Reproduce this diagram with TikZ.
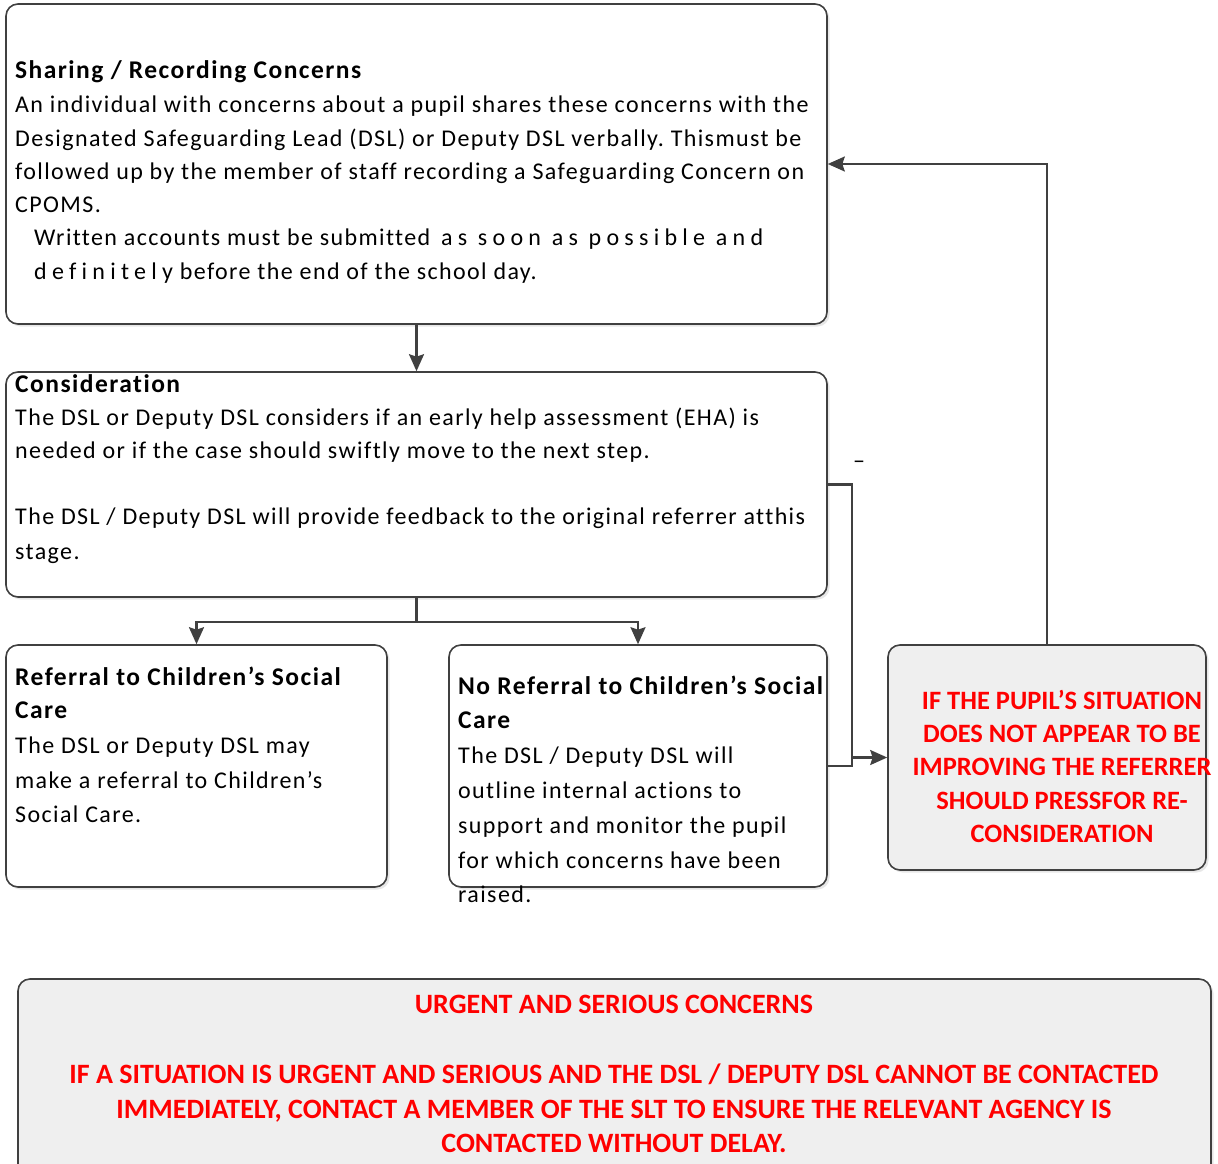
\documentclass[tikz,border=0pt]{standalone}
\usepackage{fontspec}
\setmainfont{Carlito}[LetterSpace=5.8,Ligatures=NoCommon]
\newfontfamily\plainfont{Carlito}
\newfontfamily\spc[LetterSpace=22,Ligatures=NoCommon]{Carlito}
\usetikzlibrary{arrows.meta,shadows}
\definecolor{edge}{HTML}{404040}
\definecolor{boxgray}{HTML}{EFEFEF}
\definecolor{alert}{HTML}{FF0000}
\frenchspacing
\begin{document}
\begin{tikzpicture}[x=1pt,y=-1pt,
  box/.style={draw=edge,line width=1.6pt,rounded corners=12pt,fill=white,inner sep=0pt,
    drop shadow={shadow xshift=2.5pt,shadow yshift=-2.5pt,fill=black!18}},
  graybox/.style={box,fill=boxgray},
  conn/.style={draw=edge,line width=2.2pt},
  arr/.style={-{Stealth[length=17pt,width=15pt,inset=2.5pt]}},
  txt/.style={anchor=base west,inner sep=0pt,font=\fontsize{24}{29}\selectfont},
  hd/.style={anchor=base west,inner sep=0pt,font=\fontsize{25.5}{30}\selectfont\bfseries},
  alerttxt/.style={anchor=base,inner sep=0pt,text=alert,font=\fontsize{26.5}{30}\selectfont\plainfont\bfseries},
  bigalert/.style={alerttxt,font=\fontsize{28}{32}\selectfont\plainfont\bfseries}]
\path[use as bounding box,clip] (0,0) rectangle (1218,1164);
\fill[white] (0,0) rectangle (1218,1164);
% boxes
\node[box,minimum width=821pt,minimum height=320pt] (b1) at (416.5,164) {};
\node[box,minimum width=821pt,minimum height=225pt] (b2) at (416.5,484.5) {};
\node[box,minimum width=381pt,minimum height=242pt] (b3) at (196.5,766) {};
\node[box,minimum width=378pt,minimum height=242pt] (b4) at (638,766) {};
\node[graybox,minimum width=318pt,minimum height=225pt] (b5) at (1047,757.5) {};
\node[graybox,minimum width=1193pt,minimum height=211pt] (b6) at (614.5,1084.5) {};
% connectors
\coordinate (split) at (416.5,622);
\coordinate (jt) at (852,484.5);
\coordinate (jb) at (852,766);
\coordinate (jm) at (852,757.5);
\draw[conn,arr] (b1.south) -- (b2.north);
\draw[conn] (b2.south) -- (split);
\draw[conn,arr] (split) -| (b3.north);
\draw[conn,arr] (split) -| (b4.north);
\draw[conn] (b2.east) -- (jt) -- (jb) -- (b4.east);
\draw[conn,arr] (jm) -- (b5.west);
\draw[conn,arr] (b5.north) |- (b1.east);
\node[txt] (dash) at (853,468) {–};
% box 1 text
\node[hd]  (t11) at (15,78)  {Sharing / Recording Concerns};
\node[txt] (t12) at (15,112) {An individual with concerns about a pupil shares these concerns with the};
\node[txt] (t13) at (15,146) {Designated Safeguarding Lead (DSL) or Deputy DSL verbally. Thismust be};
\node[txt] (t14) at (15,179) {followed up by the member of staff recording a Safeguarding Concern on};
\node[txt] (t15) at (15,212) {CPOMS.};
\node[txt] (t16) at (34,245) {Written accounts must be submitted\hspace{4pt} {\spc as soon as possible and}};
\node[txt] (t17) at (34,279) {{\spc definitely} before the end of the school day.};
% box 2 text
\node[hd]  (t21) at (15,392) {Consideration};
\node[txt] (t22) at (15,425) {The DSL or Deputy DSL considers if an early help assessment (EHA) is};
\node[txt] (t23) at (15,458) {needed or if the case should swiftly move to the next step.};
\node[txt] (t24) at (15,524) {The DSL / Deputy DSL will provide feedback to the original referrer atthis};
\node[txt] (t25) at (15,559) {stage.};
% box 3 text
\node[hd]  (t31) at (15,685) {Referral to Children’s Social};
\node[hd]  (t32) at (15,718) {Care};
\node[txt] (t33) at (15,753) {The DSL or Deputy DSL may};
\node[txt] (t34) at (15,788) {make a referral to Children’s};
\node[txt] (t35) at (15,822) {Social Care.};
% box 4 text
\node[hd]  (t41) at (458,694) {No Referral to Children’s Social};
\node[hd]  (t42) at (458,728) {Care};
\node[txt] (t43) at (458,763) {The DSL / Deputy DSL will};
\node[txt] (t44) at (458,798) {outline internal actions to};
\node[txt] (t45) at (458,833) {support and monitor the pupil};
\node[txt] (t46) at (458,868) {for which concerns have been};
\node[txt] (t47) at (458,902) {raised.};
% box 5 text
\node[alerttxt] (t51) at (1062,709) {IF THE PUPIL’S SITUATION};
\node[alerttxt] (t52) at (1062,742) {DOES NOT APPEAR TO BE};
\node[alerttxt] (t53) at (1062,775) {IMPROVING THE REFERRER};
\node[alerttxt] (t54) at (1062,809) {SHOULD PRESSFOR RE-};
\node[alerttxt] (t55) at (1062,842) {CONSIDERATION};
% box 6 text
\node[bigalert] (t61) at (614,1013) {URGENT AND SERIOUS CONCERNS};
\node[bigalert] (t62) at (614,1083) {IF A SITUATION IS URGENT AND SERIOUS AND THE DSL / DEPUTY DSL CANNOT BE CONTACTED};
\node[bigalert] (t63) at (614,1118) {IMMEDIATELY, CONTACT A MEMBER OF THE SLT TO ENSURE THE RELEVANT AGENCY IS};
\node[bigalert] (t64) at (614,1152) {CONTACTED WITHOUT DELAY.};
\end{tikzpicture}
\end{document}
